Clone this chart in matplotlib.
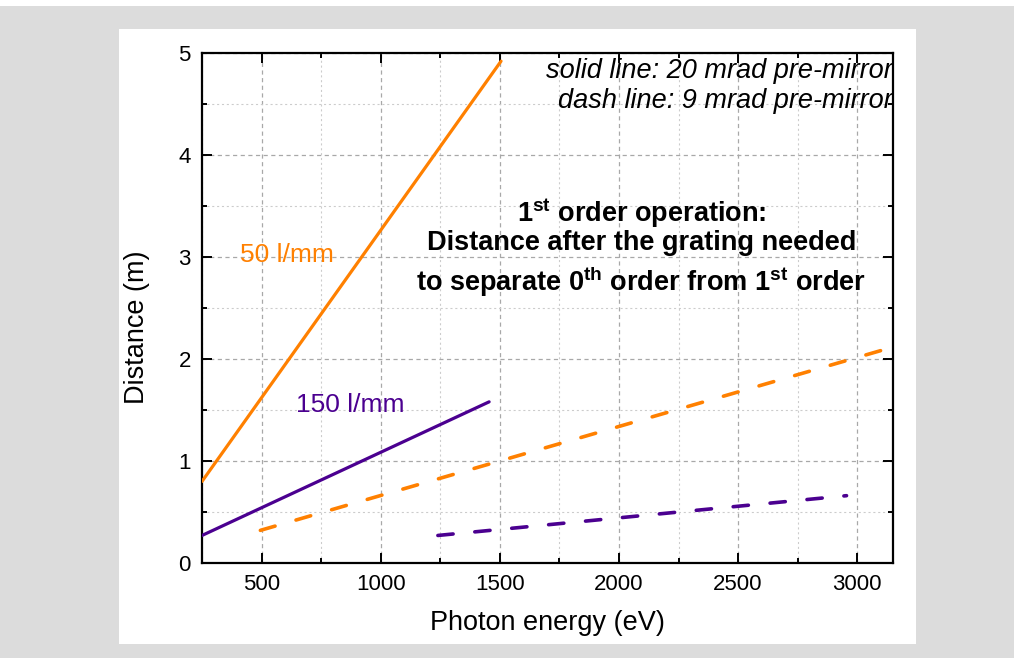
import matplotlib.pyplot as plt
from matplotlib.patches import Rectangle
from matplotlib.ticker import MultipleLocator

plt.rcParams['font.family'] = ['Liberation Sans', 'DejaVu Sans']
plt.rcParams['mathtext.fontset'] = 'custom'
plt.rcParams['mathtext.rm'] = 'Liberation Sans'
plt.rcParams['mathtext.bf'] = 'Liberation Sans:bold'
plt.rcParams['lines.scale_dashes'] = False

ORANGE = '#ff8000'
PURPLE = '#4b0090'

# photon energy (eV) vs. distance after grating (m)
e_50_solid = [250, 1505]
d_50_solid = [0.80, 4.92]
e_150_solid = [250, 1455]
d_150_solid = [0.27, 1.58]
e_50_dash = [495, 3110]
d_50_dash = [0.32, 2.09]
e_150_dash = [1240, 2955]
d_150_dash = [0.27, 0.66]

fig = plt.figure(figsize=(10.14, 6.58), dpi=100, facecolor='#dcdcdc')
W, H = 1014, 658
# white page behind the plot
fig.patches.append(Rectangle((119 / W, 1 - 644 / H), (916 - 119) / W, (644 - 29) / H,
                             transform=fig.transFigure, facecolor='white', edgecolor='none', zorder=-5))
fig.patches.append(Rectangle((0, 1 - 6 / H), 1, 6 / H,
                             transform=fig.transFigure, facecolor='white', edgecolor='none', zorder=-5))

ax = fig.add_axes([202 / W, 1 - 563 / H, (893 - 202) / W, (563 - 53) / H])
ax.set_facecolor('white')

dash = (0, (11, 15.7))
ax.plot(e_50_solid, d_50_solid, color=ORANGE, lw=2.3, solid_capstyle='round', zorder=3)
ax.plot(e_150_solid, d_150_solid, color=PURPLE, lw=2.3, solid_capstyle='round', zorder=3)
ax.plot(e_50_dash, d_50_dash, color=ORANGE, lw=2.6, ls=dash, dash_capstyle='round', zorder=3)
ax.plot(e_150_dash, d_150_dash, color=PURPLE, lw=2.6, ls=dash, dash_capstyle='round', zorder=3)

ax.set_xlim(250, 3150)
ax.set_ylim(0, 5)
ax.xaxis.set_major_locator(MultipleLocator(500))
ax.xaxis.set_minor_locator(MultipleLocator(250))
ax.yaxis.set_major_locator(MultipleLocator(1))
ax.yaxis.set_minor_locator(MultipleLocator(0.5))

ax.grid(True, which='major', color='#a8a8a8', lw=0.9, ls=(0, (3, 2.5)))
ax.grid(True, which='minor', color='#cccccc', lw=0.8, ls=(0, (1.5, 2)))
ax.set_axisbelow(True)

for s in ax.spines.values():
    s.set_linewidth(1.6)
ax.tick_params(which='both', direction='in', top=True, right=True, width=1.4,
               labelsize=16, pad=8)
ax.tick_params(which='major', length=7.5)
ax.tick_params(which='minor', length=3.5)

ax.set_xlabel('Photon energy (eV)', fontsize=19.5)
ax.set_ylabel('Distance (m)', fontsize=19.5)
ax.xaxis.set_label_coords(0.5, -0.118)
ax.xaxis.label.set_va('center')
ax.yaxis.set_label_coords(-0.094, 0.463)
ax.yaxis.label.set_va('center')

ax.text(410, 3.02, '50 l/mm', color=ORANGE, fontsize=19, va='center', ha='left')
ax.text(645, 1.55, '150 l/mm', color=PURPLE, fontsize=19, va='center', ha='left')

ax.text(3150, 4.82, 'solid line: 20 mrad pre-mirror', style='italic', fontsize=19.5,
        ha='right', va='center')
ax.text(3150, 4.53, 'dash line: 9 mrad pre-mirror', style='italic', fontsize=19.5,
        ha='right', va='center')

ax.text(2094, 3.43, r'1$^{\mathbf{st}}$ order operation:', fontsize=19.5, fontweight='bold',
        ha='center', va='center')
ax.text(2094, 3.14, 'Distance after the grating needed', fontsize=19.5, fontweight='bold',
        ha='center', va='center')
ax.text(2094, 2.76, r'to separate 0$^{\mathbf{th}}$ order from 1$^{\mathbf{st}}$ order',
        fontsize=19.5, fontweight='bold', ha='center', va='center')

fig.savefig('out.png', dpi=100, facecolor=fig.get_facecolor())
